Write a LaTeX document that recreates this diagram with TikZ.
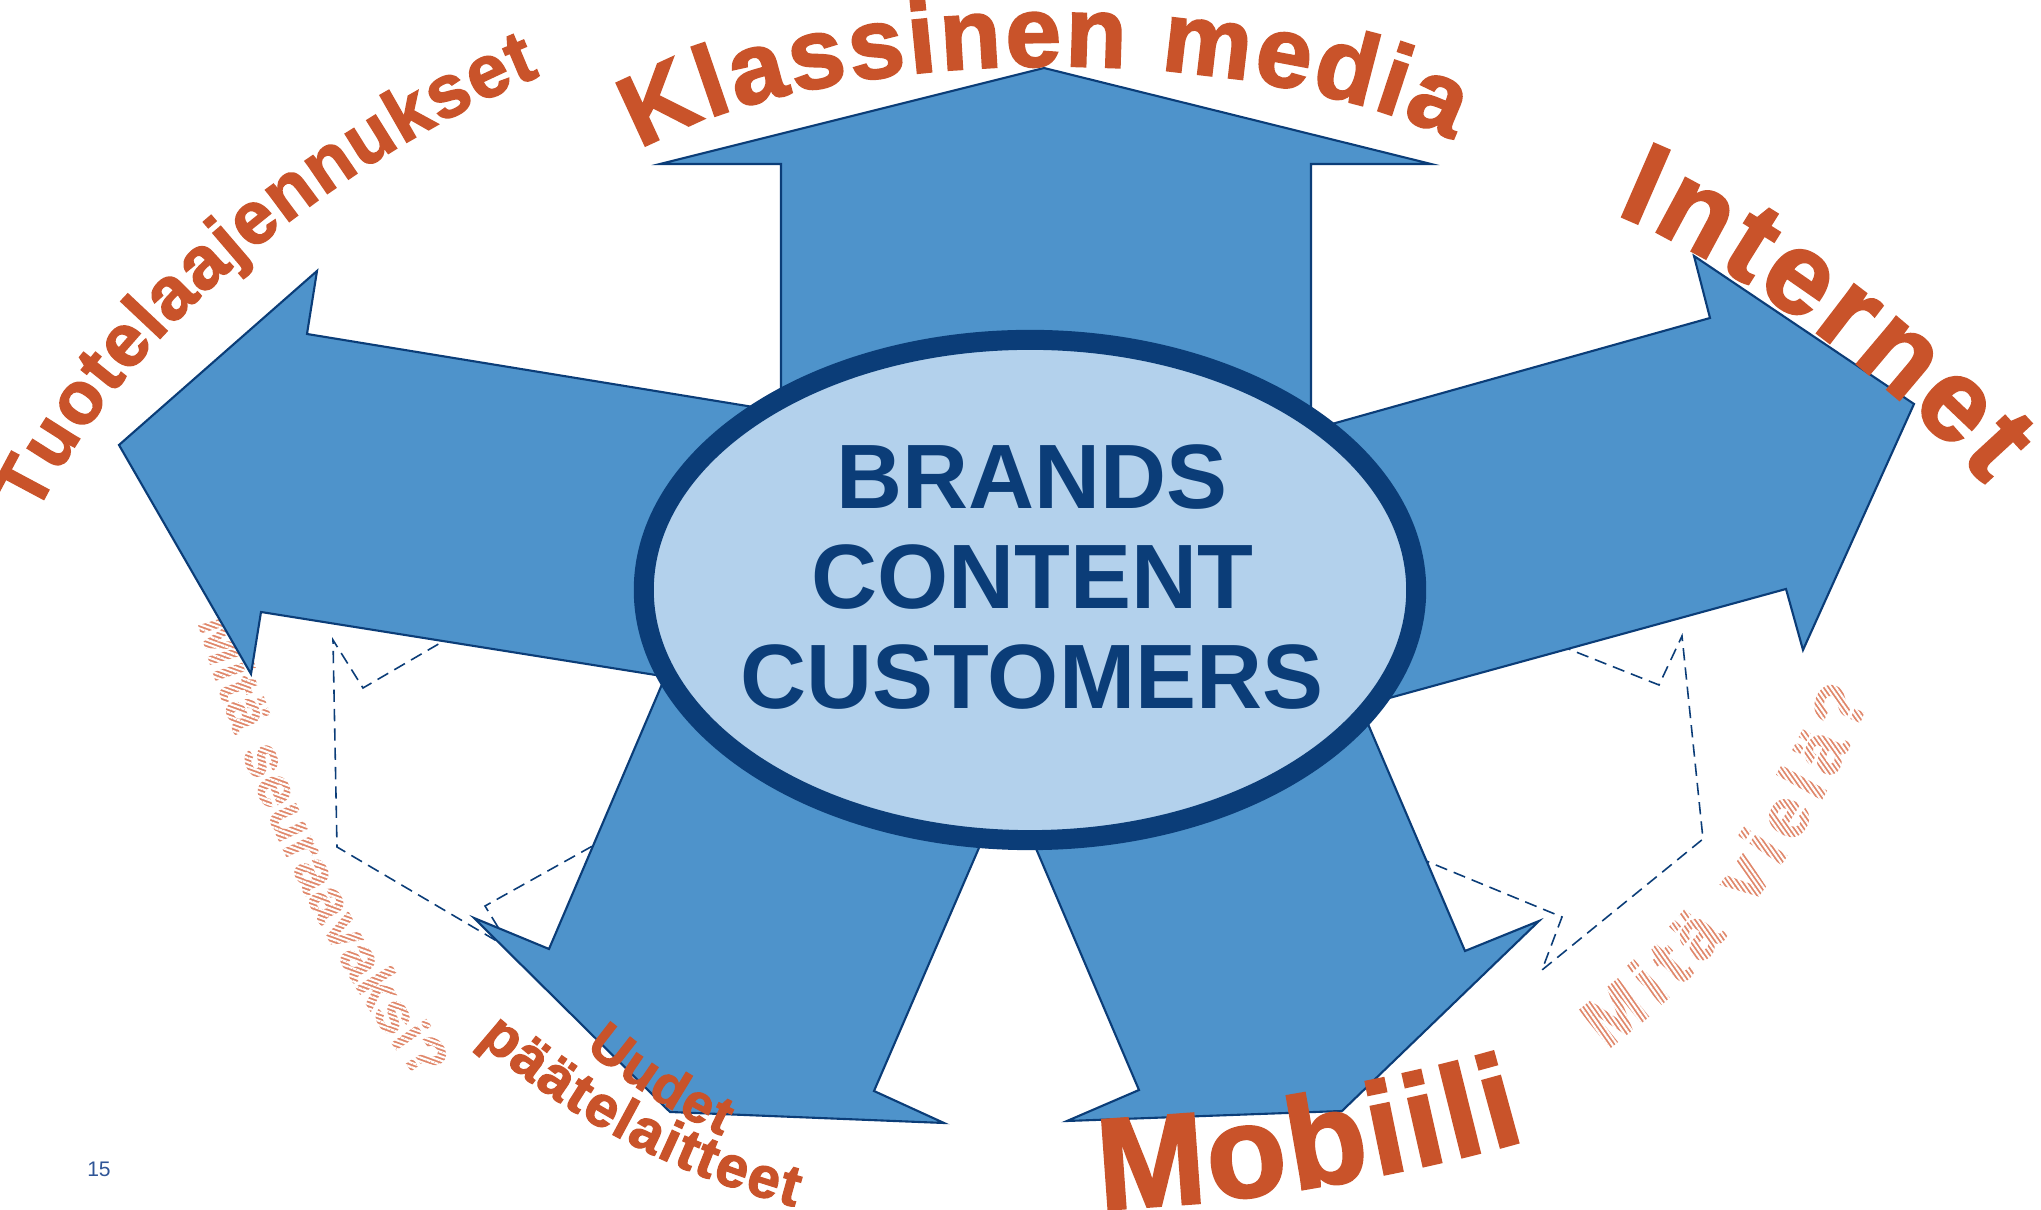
\documentclass[tikz,border=0pt]{standalone}
\usepackage{fontspec}
\setmainfont{Liberation Sans}
\newfontfamily\heavysans{Liberation Sans}[BoldFeatures={FakeBold=2}]
\usetikzlibrary{shapes.geometric,decorations.text,patterns.meta}

\definecolor{arrowblue}{HTML}{4E93CB}
\definecolor{ringblue}{HTML}{0B3D78}
\definecolor{hubfill}{HTML}{B3D1EC}
\definecolor{rust}{HTML}{C9532A}
\definecolor{salmon}{HTML}{E0876A}
\definecolor{pageblue}{HTML}{2F5597}

\newcommand\rustfont[1]{\color{rust}\fontsize{#1}{#1}\heavysans\bfseries}
\newcommand\palefont[1]{\color{salmon}\fontsize{#1}{#1}\heavysans\bfseries}

\begin{document}
\begin{tikzpicture}[
        x=0.01cm, y=-0.01cm,
        arrowbody/.style={fill=arrowblue, draw=ringblue, line width=0.6pt, line join=miter},
        ghost/.style={fill=white, draw=ringblue, line width=0.45pt, dash pattern=on 3.5pt off 2pt},
        hub/.style={ellipse, fill=hubfill, draw=ringblue, line width=0.2cm,
            minimum width=7.72cm, minimum height=5cm, inner sep=0pt},
        coretext/.style={text=ringblue, font=\fontsize{26}{28.45}\selectfont\bfseries,
            align=center, inner sep=0pt},
        pagenum/.style={text=pageblue, font=\fontsize{6}{7}\selectfont, inner sep=0pt},
        hatch/.style={pattern={Lines[angle=#1, distance=1.15pt, line width=0.6pt]}, pattern color=white},
        wordart/.style={decorate, decoration={text along path, text align={fit to path}, text={#1}}}
    ]
        \path[use as bounding box, fill=white] (0,0) rectangle (2041,1210);

        \path[wordart={|\palefont{16.3}|Mitä seuraavaksi?}] (198,622) .. controls (239,770) and (325,958) .. (420,1082);
        \path[wordart={|\palefont{20}|Mitä vielä?}] (1606,1050) .. controls (1735,956) and (1833,799) .. (1870,696);
        \fill[hatch=-20] (0,560) rectangle (1020,1210);
        \fill[hatch=-55] (1020,560) rectangle (2041,1210);

        \filldraw[ghost] (1030,590) -- (600,550) -- (363,688) -- (333,640) -- (337,847) -- (512,950) -- (485,906) -- (770,747) -- cycle;
        \filldraw[ghost] (1030,590) -- (1395,580) -- (1659,685) -- (1682,636) -- (1703,839) -- (1542,970) -- (1562,917) -- (1300,809) -- cycle;

        \filldraw[arrowbody] (781,500) -- (781,164) -- (660,164) -- (1044,68) -- (1431,164) -- (1311,164) -- (1311,500) -- cycle;
        \filldraw[arrowbody] (900,431) -- (307,334) -- (317,271) -- (119,445) -- (251,674) -- (261,612) -- (900,714) -- cycle;
        \filldraw[arrowbody] (1200,461) -- (1710,318) -- (1694,256) -- (1914,404) -- (1803,650) -- (1786,589) -- (1200,750) -- cycle;
        \filldraw[arrowbody] (698,600) -- (549,949) -- (474,918) -- (670,1112) -- (944,1123) -- (874,1091) -- (1086,600) -- cycle;
        \filldraw[arrowbody] (930,600) -- (1139,1090) -- (1067,1121) -- (1342,1111) -- (1539,921) -- (1465,951) -- (1315,600) -- cycle;

        \node[hub] (hub) at (1030,590) {};
        \node[coretext] (core) at (1032,577) {BRANDS\\CONTENT\\CUSTOMERS};

        \path[wordart={|\rustfont{28.5}|Klassinen media}] (640,150) .. controls (830,40) and (1250,40) .. (1452,140);
        \path[wordart={|\rustfont{21.2}|Tuotelaajennukset}] (36,515) .. controls (132,317) and (355,151) .. (540,76);
        \path[wordart={|\rustfont{33}|Internet}] (1615,214) .. controls (1745,266) and (1906,394) .. (1985,485);
        \path[wordart={|\rustfont{37}|Mobiili}] (1100,1209) .. controls (1250,1204) and (1412,1173) .. (1527,1140);
        \path[wordart={|\rustfont{15.5}|Uudet}] (585,1049) .. controls (623,1081) and (673,1113) .. (722,1136);
        \path[wordart={|\rustfont{16.5}|päätelaitteet}] (478,1040) .. controls (567,1120) and (679,1176) .. (795,1207);

        \node[pagenum] (page) at (99,1169) {15};
    \end{tikzpicture}
\end{document}
